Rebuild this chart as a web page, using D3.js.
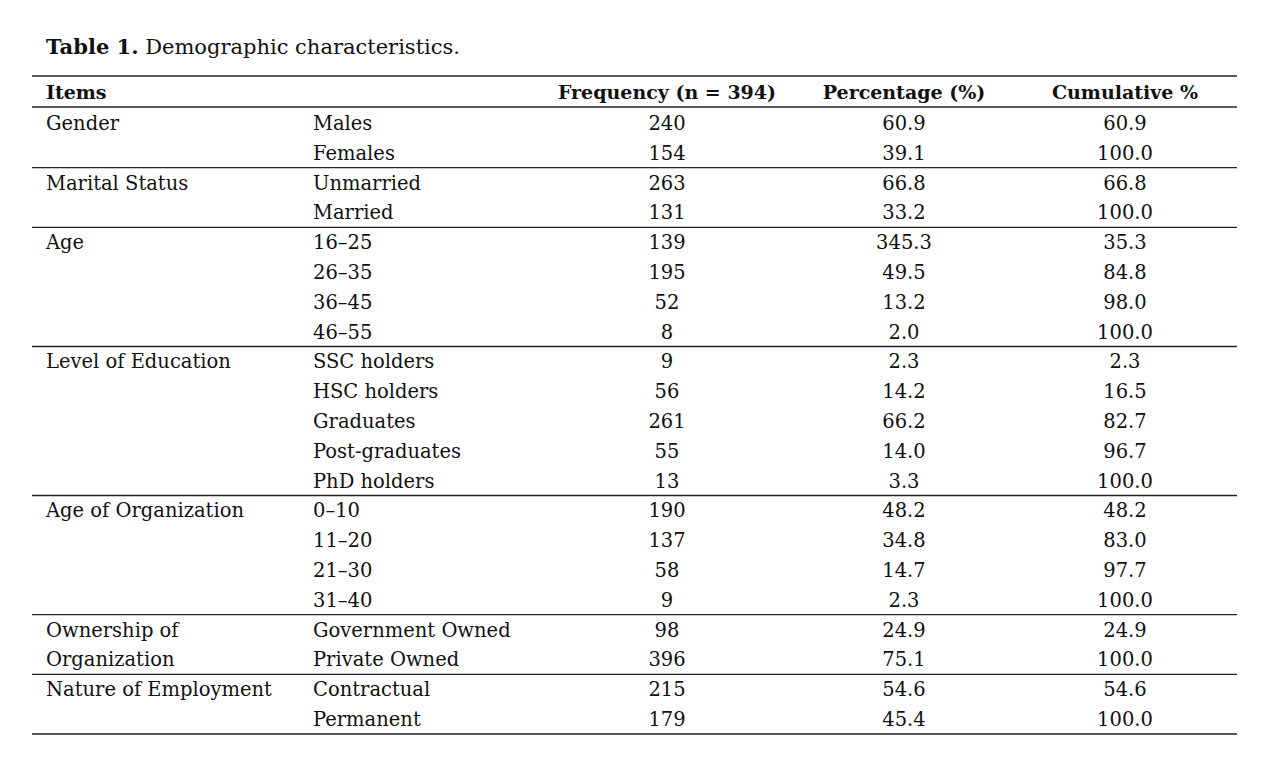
<!DOCTYPE html>
<html><head><meta charset="utf-8">
<script src="https://cdn.jsdelivr.net/npm/d3@7"></script>
<style>body{margin:0;background:#fff}</style>
</head><body><svg id="c" width="1275" height="780"></svg>
<script>
const headers=["Items","","Frequency (n = 394)","Percentage (%)","Cumulative %"];
const groups=[["Gender"],["Marital Status"],["Age"],["Level of Education"],["Age of Organization"],["Ownership of","Organization"],["Nature of Employment"]];
const subs=[["Males","Females"],["Unmarried","Married"],["16–25","26–35","36–45","46–55"],["SSC holders","HSC holders","Graduates","Post-graduates","PhD holders"],["0–10","11–20","21–30","31–40"],["Government Owned","Private Owned"],["Contractual","Permanent"]];
const freq=[[240,154],[263,131],[139,195,52,8],[9,56,261,55,13],[190,137,58,9],[98,396],[215,179]];
const pct=[["60.9","39.1"],["66.8","33.2"],["345.3","49.5","13.2","2.0"],["2.3","14.2","66.2","14.0","3.3"],["48.2","34.8","14.7","2.3"],["24.9","75.1"],["54.6","45.4"]];
const cum=[["60.9","100.0"],["66.8","100.0"],["35.3","84.8","98.0","100.0"],["2.3","16.5","82.7","96.7","100.0"],["48.2","83.0","97.7","100.0"],["24.9","100.0"],["54.6","100.0"]];

const svg=d3.select("#c");
const font="'DejaVu Serif', serif";
const nRows=d3.sum(subs,s=>s.length);
const y=d3.scaleLinear().domain([0,nRows-1]).range([123,719]);
const colX=[46,313,667,904,1125];
const anchors=["start","start","middle","middle","middle"];
const line=(yy)=>svg.append("line").attr("x1",32).attr("x2",1237).attr("y1",yy).attr("y2",yy).attr("stroke","#222").attr("stroke-width",1.3);

const t=svg.append("text").attr("x",46).attr("y",54).attr("font-family",font).attr("font-size",21).attr("fill","#111");
t.append("tspan").attr("font-weight","bold").text("Table 1.");
t.append("tspan").text(" Demographic characteristics.");

line(76);line(107);
headers.forEach((h,i)=>{ if(h) svg.append("text").attr("x",colX[i]).attr("y",99).attr("text-anchor",anchors[i])
  .attr("font-family",font).attr("font-weight","bold").attr("font-size",19).attr("fill","#111").text(h);});

let r=0;
subs.forEach((s,g)=>{
  groups[g].forEach((gl,k)=>txt(0,r+k,gl));
  s.forEach((sv,j)=>{
    txt(1,r+j,sv);txt(2,r+j,freq[g][j]);txt(3,r+j,pct[g][j]);txt(4,r+j,cum[g][j]);
  });
  r+=s.length;
  line(g===subs.length-1? y(r-1)+15 : (y(r-1)+y(r))/2);
});
function txt(c,row,v){
  svg.append("text").attr("x",colX[c]).attr("y",y(row)+7).attr("text-anchor",anchors[c])
   .attr("font-family",font).attr("font-size",19.5).attr("fill","#111").text(v);
}
</script></body></html>
